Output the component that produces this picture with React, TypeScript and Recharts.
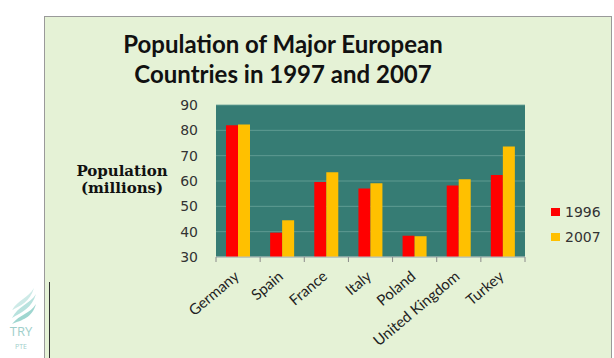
import React from "react";
import { BarChart, Bar, XAxis, YAxis, CartesianGrid, Legend } from "recharts";

const countries = ["Germany", "Spain", "France", "Italy", "Poland", "United Kingdom", "Turkey"];
const pop1996 = [82.0, 39.6, 59.6, 57.0, 38.4, 58.2, 62.4];
const pop2007 = [82.3, 44.5, 63.5, 59.1, 38.2, 60.7, 73.6];
const yTicks = [30, 40, 50, 60, 70, 80, 90];
const seriesNames = ["1996", "2007"];
const colors = ["#ff0000", "#ffc000"];

const data = countries.map((c, i) => ({ country: c, s1996: pop1996[i], s2007: pop2007[i] }));

const XTick = (props: any) => {
  const { x, y, payload, index, visibleTicksCount } = props;
  const off = payload && payload.offset ? payload.offset : 22;
  const last = index === visibleTicksCount - 1;
  const tx = x + 2;
  const ty = y + 13;
  return (
    <g>
      <line x1={x - off} y1={y - 8} x2={x - off} y2={y - 3} stroke="#8a8a8a" />
      {last && <line x1={x + off} y1={y - 8} x2={x + off} y2={y - 3} stroke="#8a8a8a" />}
      <text
        x={tx}
        y={ty}
        textAnchor="end"
        transform={`rotate(-40, ${tx}, ${ty})`}
        fontFamily="Lato, sans-serif"
        fontSize={15}
        fill="#222"
      >
        {payload.value}
      </text>
    </g>
  );
};

const LegendContent = () => (
  <div style={{ fontFamily: "DejaVu Sans, sans-serif", fontSize: 14, color: "#333" }}>
    {seriesNames.map((n, i) => (
      <div key={n} style={{ display: "flex", alignItems: "center", height: 25 }}>
        <span style={{ width: 9, height: 8, background: colors[i], display: "inline-block", marginRight: 5 }} />
        <span>{n}</span>
      </div>
    ))}
  </div>
);

export default function App() {
  return (
    <div style={{ position: "absolute", left: 0, top: 0, width: 614, height: 358, background: "#fff", overflow: "hidden" }}>
      <div style={{ position: "absolute", left: 44, top: 16, width: 566, height: 350, background: "#e5f2d6", border: "1px solid #9a9a9a" }} />
      <div style={{ position: "absolute", left: 49, top: 282, width: 1, height: 80, background: "#333" }} />
      <svg style={{ position: "absolute", left: 8, top: 288 }} width={30} height={36}>
        <path d="M4 30 C 10 18, 22 16, 28 6 C 24 20, 14 24, 4 30 Z" fill="#b8e2de" />
        <path d="M4 22 C 10 12, 20 10, 26 0 C 22 14, 12 18, 4 22 Z" fill="#cdeae7" />
        <path d="M4 36 C 12 26, 22 26, 28 16 C 24 30, 14 32, 4 36 Z" fill="#9fd6d0" />
      </svg>
      <div style={{ position: "absolute", left: 6, top: 325, width: 30, textAlign: "center", fontFamily: "Open Sans, sans-serif", color: "#9fcfcb", lineHeight: 1 }}>
        <div style={{ fontSize: 13 }}>TRY</div>
        <div style={{ fontSize: 7, marginTop: 5 }}>PTE</div>
      </div>
      <div style={{ position: "absolute", left: 44, top: 29, width: 478, textAlign: "center", fontFamily: "Lato, sans-serif", fontWeight: 700, fontSize: 24, color: "#111", lineHeight: "30px" }}>
        <div>Population of Major European</div>
        <div>Countries in 1997 and 2007</div>
      </div>
      <div style={{ position: "absolute", left: 66, top: 163, width: 112, textAlign: "center", fontFamily: "DejaVu Serif, serif", fontWeight: 700, fontSize: 15, color: "#111", lineHeight: "17px" }}>
        <div>Population</div>
        <div>(millions)</div>
      </div>
      <div style={{ position: "absolute", left: 0, top: 0 }}>
        <BarChart
          width={614}
          height={358}
          data={data}
          margin={{ top: 105, right: 89, bottom: 41, left: 166 }}
          barCategoryGap={10}
          barGap={0}
        >
          <CartesianGrid vertical={false} fill="#367c74" stroke="#6aa39a" strokeOpacity={0.8} />
          <XAxis
            dataKey="country"
            height={60}
            interval={0}
            tickLine={false}
            axisLine={{ stroke: "#bfbfbf" }}
            tick={<XTick />}
          />
          <YAxis
            width={50}
            domain={[30, 90]}
            ticks={yTicks}
            tickLine={false}
            axisLine={false}
            tickMargin={12}
            tick={{ fontFamily: "DejaVu Sans, sans-serif", fontSize: 14, fill: "#333" }}
          />
          <Legend
            layout="horizontal"
            align="center"
            verticalAlign="middle"
            content={<LegendContent />}
            wrapperStyle={{ position: "absolute", left: 551, top: 199, width: 62 }}
          />
          <Bar dataKey="s1996" name={seriesNames[0]} fill={colors[0]} barSize={12} isAnimationActive={false} />
          <Bar dataKey="s2007" name={seriesNames[1]} fill={colors[1]} barSize={12} isAnimationActive={false} />
        </BarChart>
      </div>
    </div>
  );
}
